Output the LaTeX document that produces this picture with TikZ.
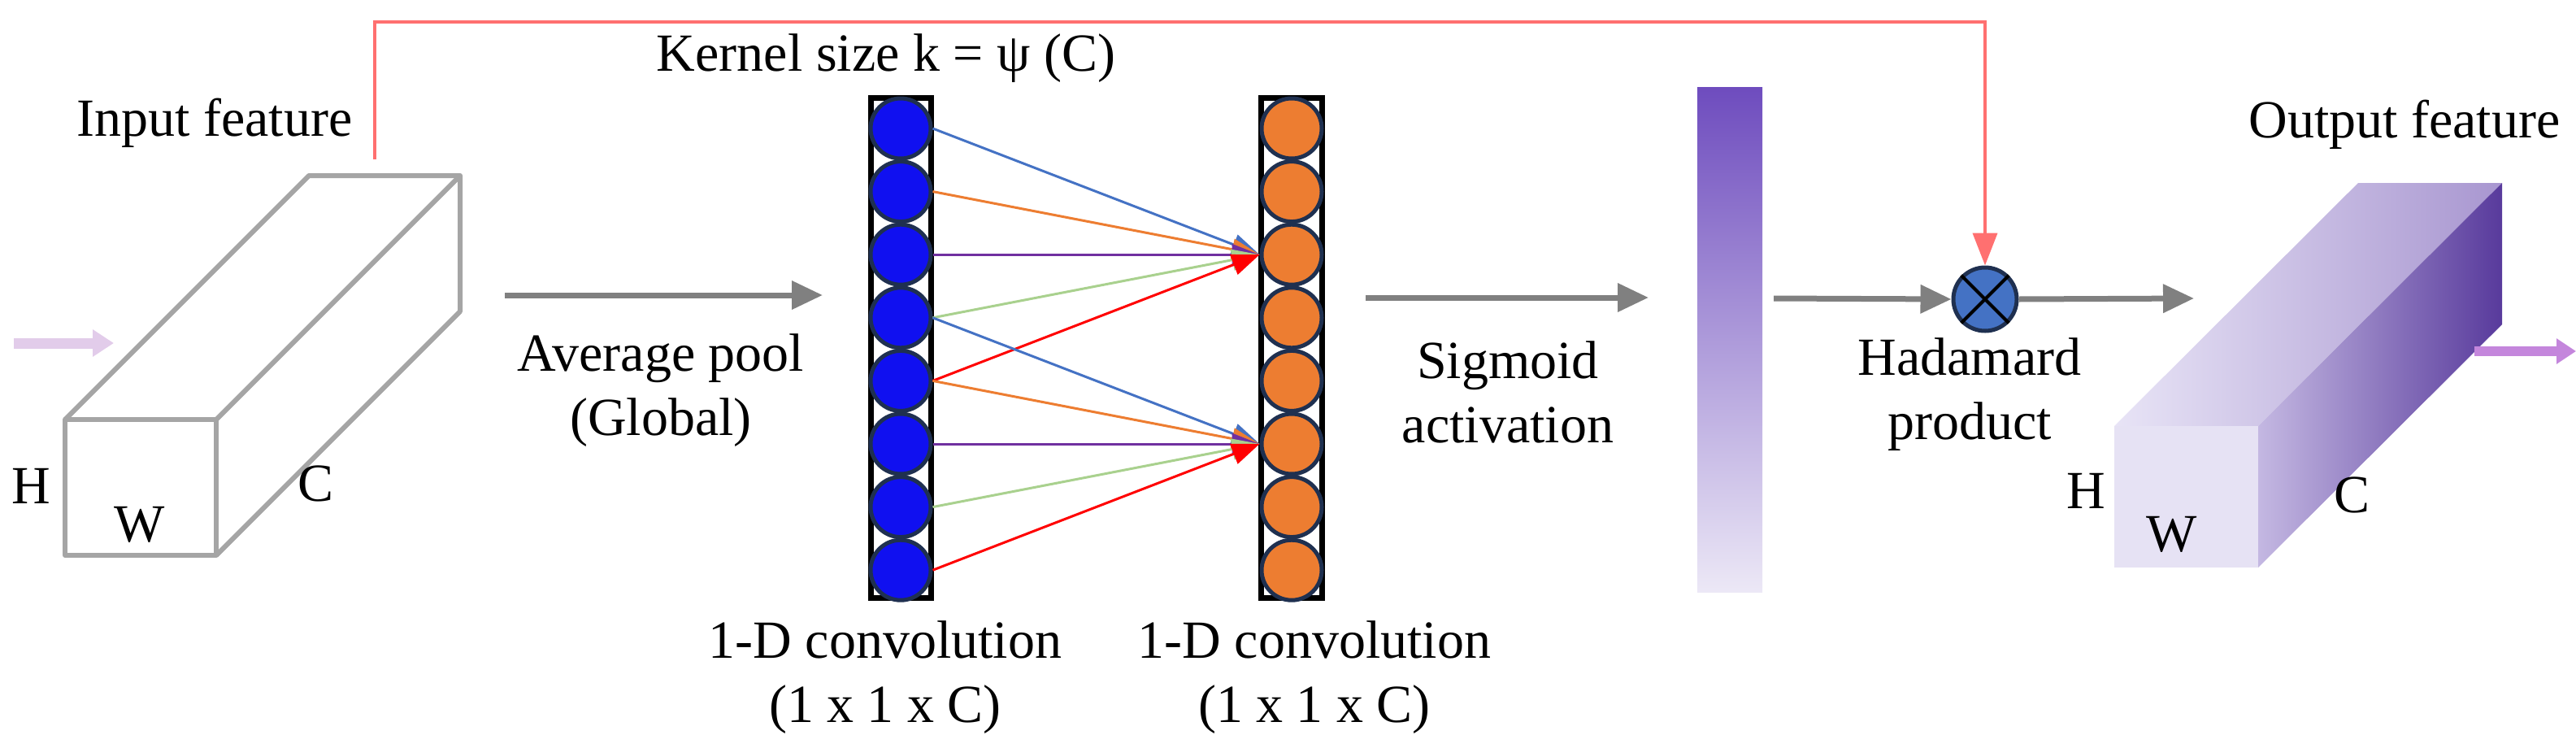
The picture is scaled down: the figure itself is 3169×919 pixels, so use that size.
\documentclass[tikz,border=0pt]{standalone}
\usepackage{fontspec}
\setmainfont{Liberation Serif}
\usetikzlibrary{arrows.meta}
\definecolor{cblue}{HTML}{4472C4}
\definecolor{corange}{HTML}{ED7D31}
\definecolor{cpurple}{HTML}{7030A0}
\definecolor{cgreen}{HTML}{A9D18E}
\definecolor{cred}{HTML}{FF0000}
\definecolor{navy}{HTML}{1F3050}
\definecolor{garrow}{HTML}{808080}
\definecolor{skip}{HTML}{FF7070}
\tikzset{
  txt/.style={font=\fontsize{66}{79}\selectfont, align=center, inner sep=0pt},
  gar/.style={draw=garrow, line width=7pt, -{Triangle[length=38pt,width=34pt]}},
  bnode/.style={circle, minimum size=74pt, inner sep=0pt, fill={rgb,255:red,16;green,16;blue,240}, draw=navy, line width=5pt},
  onode/.style={circle, minimum size=74pt, inner sep=0pt, fill=corange, draw=navy, line width=5pt},
  col/.style={draw=black, line width=7pt, fill=white},
  conn/.style={line width=3pt, -{Triangle[length=34pt,width=26pt]}},
  box/.style={draw={rgb,255:red,165;green,165;blue,165}, line width=6pt, line join=round},
}
\begin{document}
\begin{tikzpicture}[x=1pt,y=-1pt]
\useasboundingbox (0,0) rectangle (3169,919);
% input box
\draw[box] (80,516) rectangle (266,683);
\draw[box] (80,516) -- (380,216) -- (566,216) -- (566,383) -- (266,683);
\draw[box] (266,516) -- (566,216);
\coordinate (inTop) at (461,196);
\node[txt] (inlab) at (264,151) {Input feature};
\node[txt] (H1) at (38,598) {H};
\node[txt] (W1) at (172,645) {W};
\node[txt] (C1) at (389,595) {C};
\coordinate (pinkS) at (17,422);
\coordinate (pinkE) at (140,422);
\draw[draw={rgb,255:red,226;green,204;blue,234}, line width=13pt, -{Triangle[length=26pt,width=32pt]}] (pinkS) -- (pinkE);
% avg pool
\coordinate (a1s) at (621,363);
\coordinate (a1e) at (1012,363);
\draw[gar] (a1s) -- (a1e);
\node[txt] (avg) at (813,480) {Average pool\\(Global)};
% columns
\draw[col] (1071,120) rectangle (1145,735);
\draw[col] (1551,120) rectangle (1626,735);
\foreach \i in {1,...,8}{
  \node[bnode] (b\i) at (1108,{158+(\i-1)*77.6}) {};
  \node[onode] (o\i) at (1589,{158+(\i-1)*77.6}) {};
}
\node[txt] (kern) at (1090,72) {Kernel size k = ψ (C)};
\node[txt] (cv1) at (1089,833) {1-D convolution\\(1 x 1 x C)};
\node[txt] (cv2) at (1617,833) {1-D convolution\\(1 x 1 x C)};
% connections
\foreach \s/\c in {1/cblue,2/corange,3/cpurple,4/cgreen,5/cred}{
  \draw[conn, draw=\c, fill=\c] (b\s.east) -- (o3.west);
}
\foreach \s/\c in {4/cblue,5/corange,6/cpurple,7/cgreen,8/cred}{
  \draw[conn, draw=\c, fill=\c] (b\s.east) -- (o6.west);
}
% sigmoid
\coordinate (a2s) at (1680,366);
\coordinate (a2e) at (2028,366);
\draw[gar] (a2s) -- (a2e);
\node[txt] (sig) at (1855,482) {Sigmoid\\activation};
\shade[top color={rgb,255:red,110;green,76;blue,190}, bottom color={rgb,255:red,236;green,232;blue,246}] (2088,107) rectangle (2168,728);
\node (bar) at (2128,367) {};
\node[circle, minimum size=78pt, inner sep=0pt, fill=cblue, draw=navy, line width=5pt] (h) at (2442,368) {};
\draw[line width=4pt, black] (h.45) -- (h.225) (h.135) -- (h.315);
\coordinate (a3s) at (2182,367);
\draw[gar] (a3s) -- (h.west);
\coordinate (a4e) at (2699,367);
\draw[gar] (h.east) -- (a4e);
\node[txt] (had) at (2423,485) {Hadamard\\product};
% skip
\draw[draw=skip, line width=4pt, -{Triangle[length=40pt,width=30pt]}] (inTop) -- (461,27) -- (2442,27) -- (h.north);
% output box
\shade[left color={rgb,255:red,232;green,228;blue,246}, right color={rgb,255:red,168;green,150;blue,208}] (2601,524) -- (2901,225) -- (3078,225) -- (2778,524) -- cycle;
\shade[left color={rgb,255:red,196;green,184;blue,226}, right color={rgb,255:red,88;green,58;blue,156}] (2778,524) -- (3078,225) -- (3078,399) -- (2778,698) -- cycle;
\fill[fill={rgb,255:red,230;green,226;blue,244}] (2601,524) rectangle (2778,698);
\node[txt] (outlab) at (2958,153) {Output feature};
\node[txt] (H2) at (2566,604) {H};
\node[txt] (W2) at (2672,657) {W};
\node[txt] (C2) at (2893,609) {C};
\coordinate (purS) at (3044,432);
\coordinate (purE) at (3169,432);
\draw[draw={rgb,255:red,196;green,134;blue,220}, line width=12pt, -{Triangle[length=24pt,width=30pt]}] (purS) -- (purE);
\end{tikzpicture}
\end{document}
